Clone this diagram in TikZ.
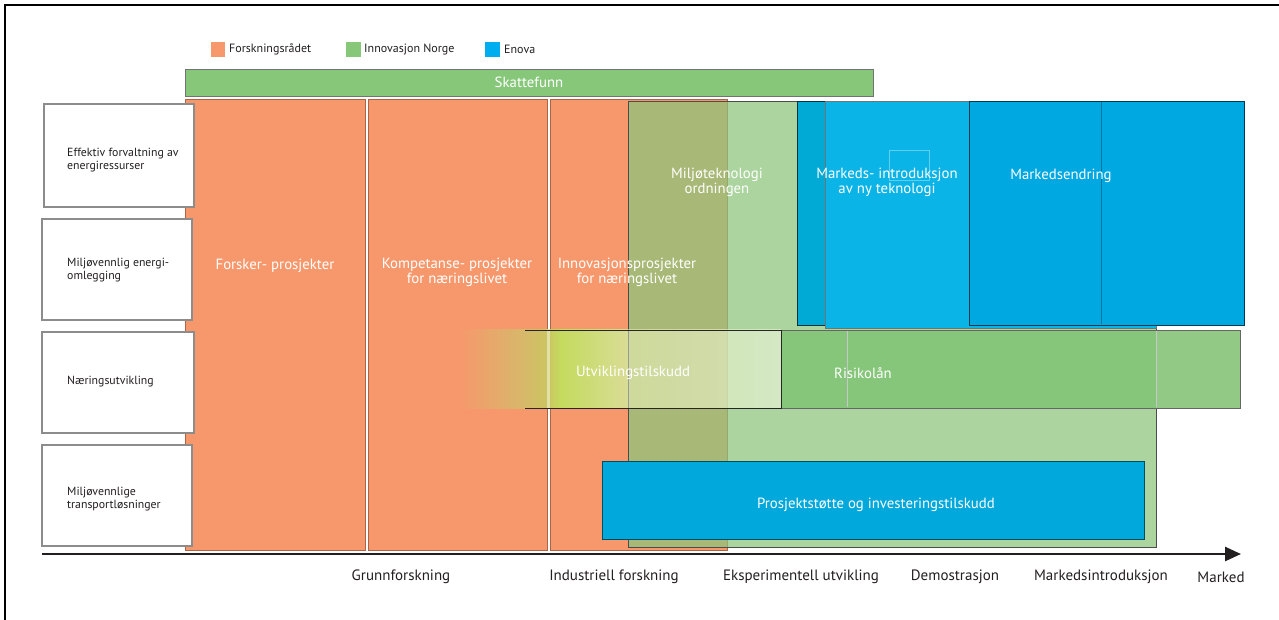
\documentclass[tikz,border=0pt]{standalone}
\usepackage{fontspec}
\setmainfont{PT Sans}
\usetikzlibrary{arrows.meta}
\definecolor{orng}{RGB}{247,152,108}
\definecolor{orngedge}{RGB}{170,100,70}
\definecolor{grn}{RGB}{134,199,122}
\definecolor{grnbox}{RGB}{140,197,123}
\definecolor{risgrnA}{RGB}{134,198,122}
\definecolor{risgrnB}{RGB}{146,202,133}
\definecolor{blueA}{RGB}{0,170,213}
\definecolor{blueB}{RGB}{11,180,231}
\definecolor{blueC}{RGB}{0,168,226}
\definecolor{blueP}{RGB}{0,168,219}
\definecolor{legblue}{RGB}{0,174,239}
\definecolor{inkdark}{RGB}{35,31,32}
\definecolor{u1}{RGB}{214,185,106}
\definecolor{u2}{RGB}{203,198,96}
\definecolor{u3}{RGB}{196,219,94}
\definecolor{u4}{RGB}{217,220,150}
\definecolor{u5}{RGB}{232,240,180}
\definecolor{u6}{RGB}{240,246,222}
\tikzset{
  orcol/.style={fill=orng,draw=orngedge,line width=0.6pt},
  rowbox/.style={fill=white,draw=black!45,line width=1.3pt},
  rowtxt/.style={anchor=west,align=left,font=\fontsize{11.8}{13}\selectfont,text=inkdark,inner sep=0pt},
  wtxt/.style={align=center,font=\fontsize{14.8}{13}\selectfont,text=white,inner sep=0pt},
  axtxt/.style={font=\fontsize{15}{15}\selectfont,text=inkdark,inner sep=0pt},
  legtxt/.style={anchor=west,font=\fontsize{12}{12}\selectfont,text=inkdark,inner sep=0pt},
}
\begin{document}
\begin{tikzpicture}[x=1pt,y=-1pt]
\useasboundingbox (0,0) rectangle (1279,619);
\fill[white] (0,0) rectangle (1279,619);
% frame
\draw[line width=2.5pt,black] (5,630) -- (5,5) -- (1290,5);

% legend
\fill[orng] (211,42) rectangle (225,57);
\node[legtxt] (lg1) at (229,49.5) {Forskningsrådet};
\fill[grn] (346,42) rectangle (361,57);
\node[legtxt] (lg2) at (364,49.5) {Innovasjon Norge};
\fill[legblue] (485,42) rectangle (500,57);
\node[legtxt] (lg3) at (504,49.5) {Enova};

% Skattefunn
\draw[fill=grn,draw=black!55,line width=0.8pt] (185,69) rectangle (873,96);
\node[wtxt] (skatt) at (529,82.5) {Skattefunn};

% orange columns
\draw[orcol] (185,99) rectangle (365,550);
\draw[orcol] (368,99) rectangle (547,550);
\draw[orcol] (550,99) rectangle (727,550);

% Miljoteknologi box (semi transparent)
\fill[grnbox,fill opacity=0.73] (628,101) rectangle (1156,547);
\draw[black!70,line width=0.7pt] (628,101) rectangle (1156,547);

% Risikolaan
\fill[risgrnA] (781,330) rectangle (1156,408);
\fill[risgrnB] (1156,330) rectangle (1240,408);
\draw[black!60,line width=0.8pt] (781,330) rectangle (1240,408);
\draw[black!22,line width=0.5pt] (847,331) -- (847,407);
\draw[black!22,line width=0.5pt] (1156,331) -- (1156,407);

% blue boxes
\draw[fill=blueA,draw=black!70!blueA,line width=0.8pt] (797,101) rectangle (1101,325);
\draw[fill=blueB,draw=black!55,line width=0.8pt] (825,101) rectangle (1156,328);
\draw[fill=blueC,draw=black!65!blueC,line width=0.9pt] (969,101) rectangle (1244,325);
\draw[black!30!blueC,line width=0.5pt] (1101,102) -- (1101,324);
\draw[white,draw opacity=0.35,line width=0.5pt] (889,150) rectangle (929,180);

% Utviklingstilskudd gradient
\shade[left color=orng,right color=u1] (460,329) rectangle (525.5,408);
\shade[left color=u1,right color=u2] (525,329) rectangle (548.5,408);
\shade[left color=u2,right color=u3] (548,329) rectangle (560.5,408);
\shade[left color=u3,right color=u4] (560,329) rectangle (628,408);
\shade[left color=u5,right color=u6,fill opacity=0.6] (628,329) rectangle (781,408);
\draw[white,draw opacity=0.45,line width=3pt] (548.5,329) -- (548.5,408);
\draw[black!40,line width=0.6pt] (628,329) -- (628,408);
\draw[black!85,line width=0.9pt] (525,330) -- (781,330) -- (781,408) -- (525,408);

% Prosjektstotte
\draw[fill=blueP,draw=black!55!blueP,line width=1pt] (602,461) rectangle (1144,539);

% row label boxes
\draw[rowbox] (44,104) rectangle (194,207);
\draw[rowbox] (42,219) rectangle (192,320);
\draw[rowbox] (42,332) rectangle (194,433);
\draw[rowbox] (42,445) rectangle (192,546);
\node[rowtxt] (r1) at (67,160.5) {Effektiv forvaltning av\\energiressurser};
\node[rowtxt] (r2) at (67,270.5) {Miljøvennlig energi-\\omlegging};
\node[rowtxt] (r3) at (67,382) {Næringsutvikling};
\node[rowtxt] (r4) at (67,499.5) {Miljøvennlige\\transportløsninger};

% white texts
\node[wtxt] (t1) at (275,266) {Forsker- prosjekter};
\node[wtxt] (t2) at (457,272.5) {Kompetanse- prosjekter\\for næringslivet};
\node[wtxt] (t3) at (627,272.5) {Innovasjonsprosjekter\\for næringslivet};
\node[wtxt] (t4) at (717,182.5) {Miljøteknologi\\ordningen};
\node[wtxt] (t5) at (887,182.5) {Markeds- introduksjon\\av ny teknologi};
\node[wtxt] (t6) at (1061,176) {Markedsendring};
\node[wtxt] (t7) at (633,373) {Utviklingstilskudd};
\node[wtxt] (t8) at (863,373) {Risikolån};
\node[wtxt] (t9) at (876,505) {Prosjektstøtte og investeringstilskudd};

% axis
\coordinate (axA) at (42,554);
\coordinate (axB) at (1241,554);
\draw[inkdark,line width=2.6pt,-{Triangle[length=16pt,width=14pt]}] (axA) -- (axB);
\node[axtxt] (a1) at (401,577) {Grunnforskning};
\node[axtxt] (a2) at (614,577) {Industriell forskning};
\node[axtxt] (a3) at (801,577) {Eksperimentell utvikling};
\node[axtxt] (a4) at (955,577) {Demostrasjon};
\node[axtxt] (a5) at (1101,577) {Markedsintroduksjon};
\node[axtxt] (a6) at (1221,577) {Marked};
\end{tikzpicture}
\end{document}
